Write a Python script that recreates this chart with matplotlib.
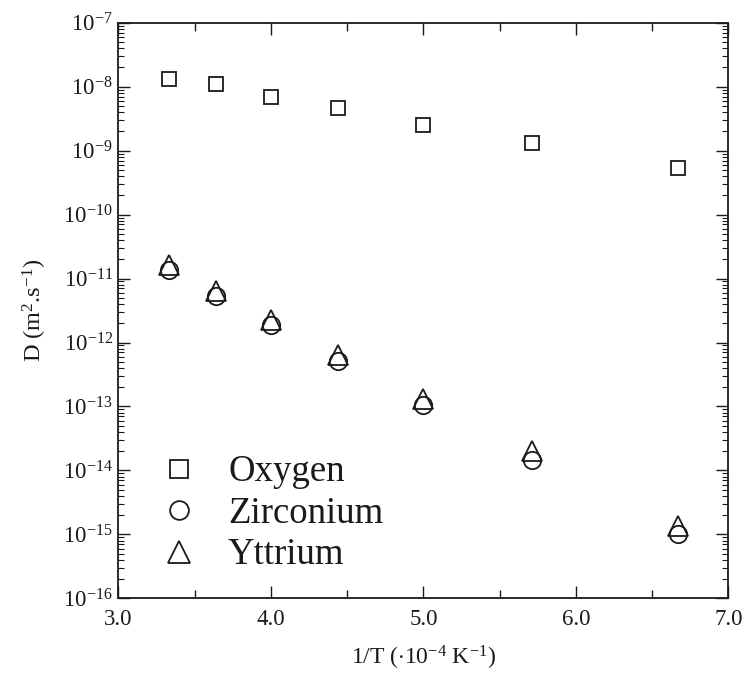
import matplotlib
matplotlib.use("Agg")
import matplotlib.pyplot as plt
from matplotlib.lines import Line2D
from matplotlib.ticker import LogLocator, MultipleLocator, FormatStrFormatter, NullFormatter

plt.rcParams['font.family'] = ['Liberation Serif', 'DejaVu Serif']
plt.rcParams['mathtext.fontset'] = 'custom'
plt.rcParams['mathtext.rm'] = 'Liberation Serif'
plt.rcParams['mathtext.it'] = 'Liberation Serif:italic'
plt.rcParams['mathtext.bf'] = 'Liberation Serif:bold'

# 1/T in 10^-4 K^-1 (T = 3000 ... 1500 K)
inv_T = [3.33, 3.64, 4.00, 4.44, 5.00, 5.71, 6.67]
D_oxygen = [1.32e-8, 1.09e-8, 6.9e-9, 4.6e-9, 2.52e-9, 1.30e-9, 5.3e-10]
D_zirconium = [1.34e-11, 5.4e-12, 1.85e-12, 5.2e-13, 1.04e-13, 1.43e-14, 1.0e-15]
D_yttrium = [1.60e-11, 6.5e-12, 2.26e-12, 6.3e-13, 1.32e-13, 1.98e-14, 1.33e-15]
labels = ["Oxygen", "Zirconium", "Yttrium"]

ink = "#1a1a1a"

fig = plt.figure(figsize=(7.47, 6.80), dpi=100)
ax = fig.add_axes([0.1584, 0.1201, 0.8166, 0.8465])

ax.plot(inv_T, D_oxygen, ls="none", marker="s", ms=10, mfc="none", mec=ink, mew=1.3)
ax.plot(inv_T, D_zirconium, ls="none", marker="o", ms=12.5, mfc="none", mec=ink, mew=1.3)
ax.plot(inv_T, D_yttrium, ls="none", marker="^", ms=15, mfc="none", mec=ink, mew=1.3)

ax.set_yscale("log")
ax.set_xlim(3.0, 7.0)
ax.set_ylim(1e-16, 1e-7)

ax.xaxis.set_major_locator(MultipleLocator(1.0))
ax.xaxis.set_minor_locator(MultipleLocator(0.5))
ax.xaxis.set_major_formatter(FormatStrFormatter("%.1f"))
ax.yaxis.set_major_locator(LogLocator(base=10, numticks=20))
ax.yaxis.set_minor_locator(LogLocator(base=10, subs=range(2, 10), numticks=200))
ax.yaxis.set_minor_formatter(NullFormatter())

ax.tick_params(which="both", direction="in", top=True, right=True, colors=ink, labelsize=16.5)
ax.tick_params(axis="x", which="major", length=8.5, width=1.0, pad=8)
ax.tick_params(axis="x", which="minor", length=5.5, width=1.0)
ax.tick_params(axis="y", which="major", length=8.5, width=1.0, pad=4)
ax.tick_params(axis="y", which="minor", length=4.5, width=0.8)
for sp in ax.spines.values():
    sp.set_linewidth(1.3)
    sp.set_color(ink)

ax.set_xlabel(r"1/T ($\cdot$10$^{-4}$ K$^{-1}$)", fontsize=17, color=ink, labelpad=10)
ax.set_ylabel(r"D (m$^{2}$.s$^{-1}$)", fontsize=17.5, color=ink, labelpad=10)

handles = [
    Line2D([], [], ls="none", marker="s", ms=13, mfc="none", mec=ink, mew=1.3),
    Line2D([], [], ls="none", marker="o", ms=13.5, mfc="none", mec=ink, mew=1.3),
    Line2D([], [], ls="none", marker="^", ms=16.5, mfc="none", mec=ink, mew=1.3),
]
ax.legend(handles, labels, loc="lower left", bbox_to_anchor=(0.07, 0.045),
          frameon=False, fontsize=26.5, handlelength=1.0, handletextpad=0.82,
          labelspacing=0.19, borderpad=0, borderaxespad=0, labelcolor=ink)

fig.savefig("out.png", dpi=100)
